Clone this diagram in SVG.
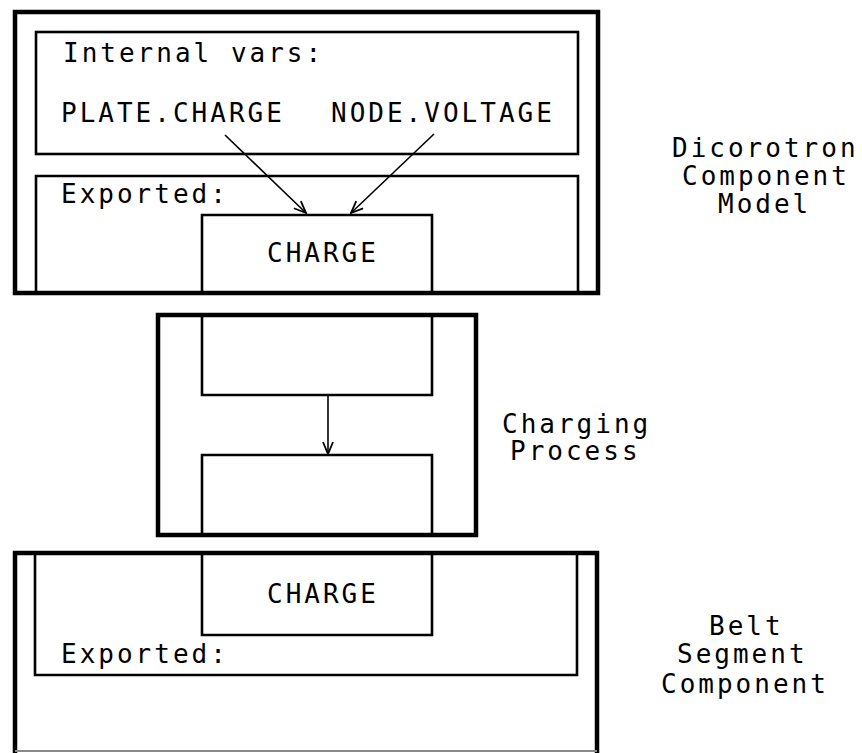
<svg xmlns="http://www.w3.org/2000/svg" width="862" height="753" viewBox="0 0 862 753">
<style>
.outer{fill:none;stroke:#000;stroke-width:4.5}
.inner{fill:none;stroke:#000;stroke-width:2.6}
.conn{fill:none;stroke:#000;stroke-width:1.6}
text{font-family:"DejaVu Sans Mono","Liberation Mono",monospace;font-size:26px;letter-spacing:3px;fill:#000}
</style>
<defs>
<marker id="ah" viewBox="0 0 14 12" refX="13" refY="6" markerWidth="14" markerHeight="12" markerUnits="userSpaceOnUse" orient="auto">
<path d="M1,1 L13,6 L1,11" fill="none" stroke="#000" stroke-width="1.8"/>
</marker>
</defs>
<rect width="862" height="753" fill="#fff"/>
<g id="dicorotron">
<rect class="outer" x="15" y="12" width="583" height="281"/>
<g id="internal-vars">
<rect class="inner" x="36" y="32" width="542" height="122"/>
<text x="63" y="62">Internal vars:</text>
<text x="61" y="122">PLATE.CHARGE</text>
<text x="331" y="122">NODE.VOLTAGE</text>
</g>
<g id="dicorotron-exported">
<path class="inner" d="M36,293 V176 H578 V293"/>
<text x="61" y="203">Exported:</text>
</g>
<g id="dicorotron-charge">
<path class="inner" d="M202,293 V215 H432 V293"/>
<text x="267" y="262">CHARGE</text>
</g>
</g>
<g id="charging-process">
<rect class="outer" x="158" y="315" width="318" height="220"/>
<path id="charging-top" class="inner" d="M202,315 V395 H432 V315"/>
<path id="charging-bottom" class="inner" d="M202,535 V455 H432 V535"/>
</g>
<g id="belt">
<path class="outer" d="M15,753 V553 H597 V753"/>
<path stroke="#888" stroke-width="2" fill="none" d="M15,751 H597"/>
<g id="belt-exported">
<path class="inner" d="M35,555 V675 H577 V555"/>
<text x="61" y="663">Exported:</text>
</g>
<g id="belt-charge">
<path class="inner" d="M202,555 V635 H432 V555"/>
<text x="267" y="603">CHARGE</text>
</g>
</g>
<g id="connectors">
<path class="conn" d="M225,135 L306,213" marker-end="url(#ah)"/>
<path class="conn" d="M434,134 L351,213" marker-end="url(#ah)"/>
<path class="conn" d="M328,395 L328,454" marker-end="url(#ah)"/>
</g>
<g id="labels">
<text x="672" y="157">Dicorotron</text>
<text x="682" y="185">Component</text>
<text x="718" y="213">Model</text>
<text x="502" y="433">Charging</text>
<text x="510" y="460">Process</text>
<text x="709" y="635">Belt</text>
<text x="677" y="663">Segment</text>
<text x="661" y="693">Component</text>
</g>
</svg>
